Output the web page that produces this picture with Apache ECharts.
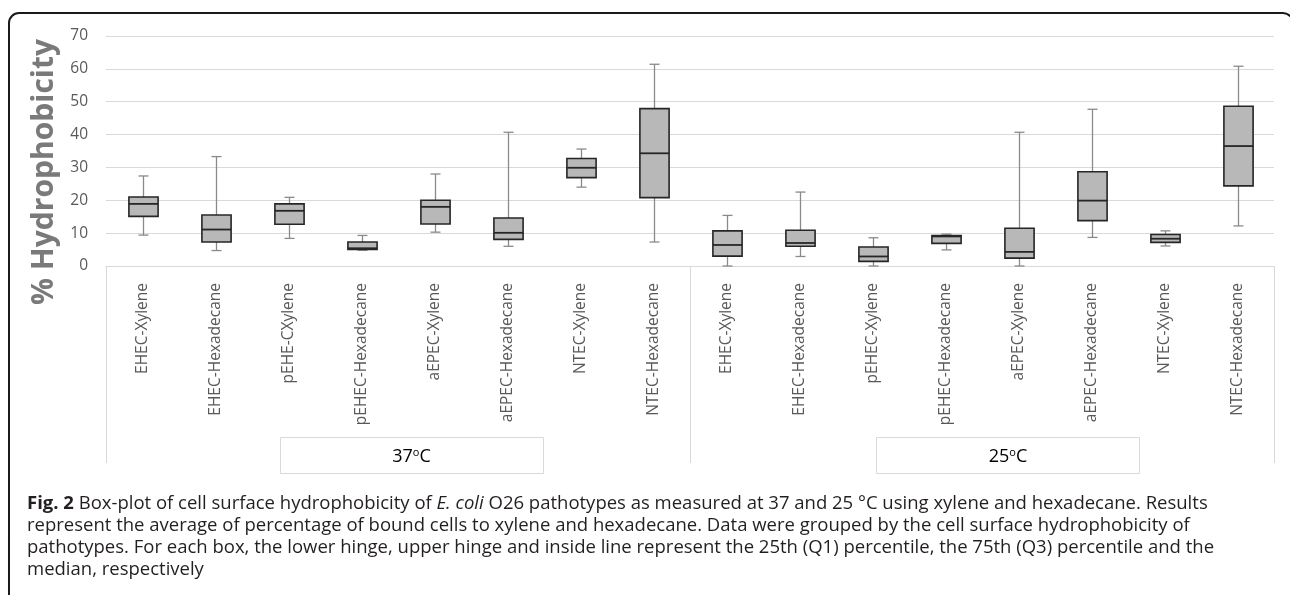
<!DOCTYPE html>
<html>
<head>
<meta charset="utf-8">
<script src="https://cdn.jsdelivr.net/npm/echarts@6/dist/echarts.min.js"></script>
<style>
  html, body { margin: 0; padding: 0; background: #fff; }
  #chart { width: 1290px; height: 595px; }
</style>
</head>
<body>
<div id="chart"></div>
<script>
// categories and box stats
const categories = [
  "EHEC-Xylene", "EHEC-Hexadecane", "pEHE-CXylene", "pEHEC-Hexadecane",
  "aEPEC-Xylene", "aEPEC-Hexadecane", "NTEC-Xylene", "NTEC-Hexadecane",
  "EHEC-Xylene", "EHEC-Hexadecane", "pEHEC-Xylene", "pEHEC-Hexadecane",
  "aEPEC-Xylene", "aEPEC-Hexadecane", "NTEC-Xylene", "NTEC-Hexadecane"
];
const groupLabels = ["37°C", "25°C"];
const minVals = [9.4, 4.7, 8.4, 4.8, 10.3, 6.0, 24.0, 7.3, 0, 2.9, 0, 4.9, 0, 8.7, 6.1, 12.2];
const q1Vals  = [15.1, 7.3, 12.7, 5.0, 12.8, 8.1, 26.9, 20.8, 3.0, 6.0, 1.4, 6.9, 2.4, 13.8, 7.2, 24.4];
const medVals = [18.9, 11.1, 16.8, 5.4, 18.0, 10.1, 29.9, 34.3, 6.4, 7.0, 2.9, 9.0, 4.3, 19.9, 8.3, 36.5];
const q3Vals  = [21.0, 15.5, 18.9, 7.3, 20.0, 14.6, 32.7, 47.9, 10.7, 10.9, 5.8, 9.3, 11.5, 28.7, 9.6, 48.6];
const maxVals = [27.4, 33.3, 20.9, 9.3, 28.0, 40.7, 35.6, 61.4, 15.4, 22.5, 8.6, 9.7, 40.7, 47.7, 10.7, 60.8];
const yMin = 0, yMax = 70, yStep = 10;

let boxData = categories.map(function (c, i) {
  return [i, minVals[i], q1Vals[i], medVals[i], q3Vals[i], maxVals[i]];
});

let myChart = echarts.init(document.getElementById("chart"));

// draw one box: whisker, caps, box, median
function renderBox(params, api) {
  let i = api.value(0);
  let pMin = api.coord([i, api.value(1)]);
  let pQ1 = api.coord([i, api.value(2)]);
  let pMed = api.coord([i, api.value(3)]);
  let pQ3 = api.coord([i, api.value(4)]);
  let pMax = api.coord([i, api.value(5)]);
  let band = api.size([1, 0])[0];
  let bw = band * 0.4;
  let cw = 10;
  let cx = Math.round(pMed[0]) + 0.5;
  let whisker = { stroke: "#8a8a8a", lineWidth: 1.3 };
  return {
    type: "group",
    children: [
      { type: "line", shape: { x1: cx, y1: pMax[1], x2: cx, y2: pMin[1] }, style: whisker },
      { type: "line", shape: { x1: cx - cw / 2, y1: pMax[1], x2: cx + cw / 2, y2: pMax[1] }, style: whisker },
      { type: "line", shape: { x1: cx - cw / 2, y1: pMin[1], x2: cx + cw / 2, y2: pMin[1] }, style: whisker },
      {
        type: "rect",
        shape: { x: cx - bw / 2, y: pQ3[1], width: bw, height: pQ1[1] - pQ3[1] },
        style: { fill: "#b8b8b8", stroke: "#262626", lineWidth: 1.6 }
      },
      { type: "line", shape: { x1: cx - bw / 2, y1: pMed[1], x2: cx + bw / 2, y2: pMed[1] }, style: { stroke: "#262626", lineWidth: 1.8 } }
    ]
  };
}

const captionFont = '18.5px "Open Sans"';
const captionColor = "#231f20";
const groupRich = {
  a: { fontSize: 18, fontFamily: "Open Sans", fill: "#000" },
  o: { fontSize: 11, fontFamily: "Open Sans", fill: "#000", padding: [0, 0, 8, 0] }
};

var option = {
  backgroundColor: "#fff",
  animation: false,
  grid: { left: 106, right: 16, top: 36, bottom: 329 },
  xAxis: [
    {
      type: "category",
      data: categories,
      boundaryGap: true,
      axisLine: { show: true, lineStyle: { color: "#d9d9d9", width: 1 } },
      axisTick: { show: false },
      axisLabel: {
        interval: 0,
        rotate: 90,
        margin: 17,
        color: "#595959",
        fontSize: 15.5,
        fontFamily: "Open Sans"
      }
    },
    {
      // group separators of the two temperature blocks
      type: "category",
      data: groupLabels,
      position: "bottom",
      boundaryGap: true,
      axisLine: { show: false },
      axisTick: { show: true, interval: 0, length: 197, lineStyle: { color: "#d9d9d9", width: 1 } },
      axisLabel: { show: false }
    }
  ],
  yAxis: {
    type: "value",
    min: yMin,
    max: yMax,
    interval: yStep,
    axisLine: { show: false },
    axisTick: { show: false },
    splitLine: { lineStyle: { color: "#d9d9d9", width: 1 } },
    axisLabel: { color: "#595959", fontSize: 15.5, fontFamily: "Open Sans", margin: 18 }
  },
  series: [
    {
      type: "custom",
      renderItem: renderBox,
      encode: { x: 0, y: [1, 2, 3, 4, 5] },
      data: boxData
    }
  ],
  graphic: [
    {
      type: "rect",
      silent: true,
      shape: { x: 9, y: 13, width: 1284, height: 640, r: 10 },
      style: { fill: "none", stroke: "#1a1a1a", lineWidth: 2 }
    },
    {
      type: "text",
      x: 44, y: 172,
      rotation: Math.PI / 2,
      style: {
        text: "% Hydrophobicity",
        font: 'bold 30px "Open Sans"',
        fill: "#7a7a7a",
        align: "center",
        verticalAlign: "middle"
      }
    },
    {
      type: "rect",
      shape: { x: 280.5, y: 437.5, width: 263, height: 36 },
      style: { fill: "#fff", stroke: "#d9d9d9", lineWidth: 1 }
    },
    {
      type: "text",
      x: 411.5, y: 457,
      style: { text: "{a|37}{o|o}{a|C}", align: "center", verticalAlign: "middle", rich: groupRich }
    },
    {
      type: "rect",
      shape: { x: 876.5, y: 437.5, width: 263, height: 36 },
      style: { fill: "#fff", stroke: "#d9d9d9", lineWidth: 1 }
    },
    {
      type: "text",
      x: 1008, y: 457,
      style: { text: "{a|25}{o|o}{a|C}", align: "center", verticalAlign: "middle", rich: groupRich }
    },
    {
      type: "text",
      x: 27, y: 504,
      style: {
        text: "{b|Fig. 2} Box-plot of cell surface hydrophobicity of {i|E. coli} O26 pathotypes as measured at 37 and 25 °C using xylene and hexadecane. Results",
        font: captionFont,
        fill: captionColor,
        verticalAlign: "middle",
        rich: {
          b: { fontWeight: "bold", fontSize: 18.5, fontFamily: "Open Sans", fill: captionColor },
          i: { fontStyle: "italic", fontSize: 18.5, fontFamily: "Open Sans", fill: captionColor }
        }
      }
    },
    {
      type: "text",
      x: 27, y: 526,
      style: {
        text: "represent the average of percentage of bound cells to xylene and hexadecane. Data were grouped by the cell surface hydrophobicity of",
        font: captionFont, fill: captionColor, verticalAlign: "middle"
      }
    },
    {
      type: "text",
      x: 27, y: 548,
      style: {
        text: "pathotypes. For each box, the lower hinge, upper hinge and inside line represent the 25th (Q1) percentile, the 75th (Q3) percentile and the",
        font: captionFont, fill: captionColor, verticalAlign: "middle"
      }
    },
    {
      type: "text",
      x: 27, y: 570,
      style: {
        text: "median, respectively",
        font: captionFont, fill: captionColor, verticalAlign: "middle"
      }
    }
  ]
};

myChart.setOption(option);
</script>
</body>
</html>
